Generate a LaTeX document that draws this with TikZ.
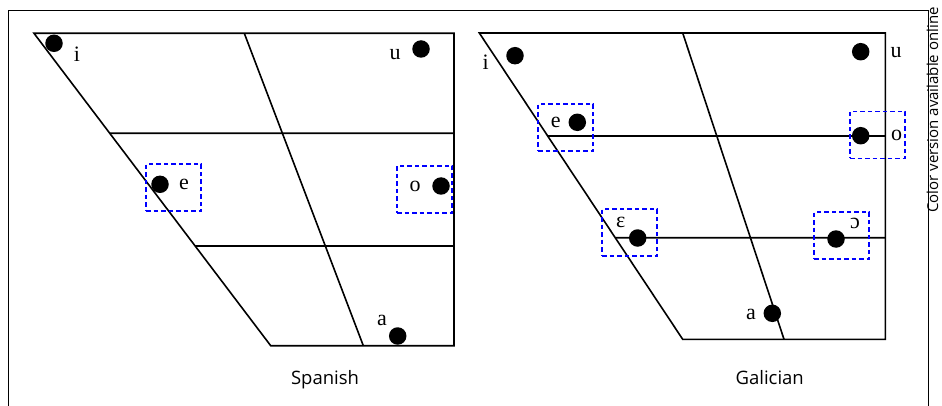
\documentclass[tikz,border=0pt]{standalone}
\usepackage{fontspec}
\setmainfont{Liberation Serif}
\newfontfamily\sansf{Open Sans}
\usetikzlibrary{calc}
\begin{document}
\begin{tikzpicture}[x=1pt,y=-1pt,
  chart/.style={line width=1.6pt,line join=miter},
  vdot/.style={circle,fill=black,inner sep=0pt,minimum size=17.5pt},
  vlab/.style={anchor=base,inner sep=0pt,font=\fontsize{22}{22}\selectfont},
  hibox/.style={draw={rgb,255:red,0;green,0;blue,255},dash pattern=on 4.5pt off 3pt,line width=1.6pt,minimum width=55pt,minimum height=47pt,inner sep=0pt},
  panel/.style={anchor=base,inner sep=0pt,font=\sansf\fontsize{18.5}{18.5}\selectfont}]
\useasboundingbox (0,0) rectangle (942,406);
\clip (0,0) rectangle (942,406);
% outer frame
\coordinate (F1) at (8.3,10.7);
\coordinate (F2) at (928.7,420);
\draw[line width=1.5pt] (F1) rectangle (F2);
\node[rotate=90,anchor=base west,inner sep=0pt,font=\sansf\fontsize{15}{15}\selectfont] (note) at (938,213) {Color version available online};

% ---------- Spanish ----------
\coordinate (sTL) at (34,33.3);
\coordinate (sTR) at (454,33.3);
\coordinate (sBR) at (454,345.7);
\coordinate (sBL) at (270.7,345.7);
\coordinate (sMT) at (244.3,33.3);
\coordinate (sMB) at (363.3,345.7);
\coordinate (sL1) at ($(sTL)!0.3201!(sBL)$);
\coordinate (sR1) at (454,133.3);
\coordinate (sL2) at ($(sTL)!0.6809!(sBL)$);
\coordinate (sR2) at (454,246);
\draw[chart] (sTL) -- (sTR) -- (sBR) -- (sBL) -- cycle;
\draw[chart] (sMT) -- (sMB);
\draw[chart] (sL1) -- (sR1);
\draw[chart] (sL2) -- (sR2);
\node[hibox] (sbe) at (173.5,187.7) {};
\node[hibox] (sbo) at (424.5,189.3) {};
\node[vdot] (si) at (54,43.3) {};
\node[vdot] (su) at (421,49) {};
\node[vdot] (se) at (160,184.3) {};
\node[vdot] (so) at (441,186) {};
\node[vdot] (sa) at (397.7,336) {};
\node[vlab] (lsi) at (77,61.5) {i};
\node[vlab] (lsu) at (395,60) {u};
\node[vlab] (lse) at (184,190) {e};
\node[vlab] (lso) at (415,192) {o};
\node[vlab] (lsa) at (382,325) {a};
\node[panel] (spanish) at (325,384) {Spanish};

% ---------- Galician ----------
\coordinate (gTL) at (479.3,33);
\coordinate (gTR) at (885.3,33);
\coordinate (gBR) at (885.3,339.3);
\coordinate (gBL) at (682.7,339.3);
\coordinate (gMT) at (682.7,33);
\coordinate (gMB) at (784,339.3);
\coordinate (gL1) at ($(gTL)!0.3363!(gBL)$);
\coordinate (gR1) at (885.3,136);
\coordinate (gL2) at ($(gTL)!0.6683!(gBL)$);
\coordinate (gR2) at (885.3,237.7);
\draw[chart] (gTL) -- (gTR) -- (gBR) -- (gBL) -- cycle;
\draw[chart] (gMT) -- (gMB);
\draw[chart] (gL1) -- (gR1);
\draw[chart] (gL2) -- (gR2);
\node[hibox] (gbe) at (565.5,127.7) {};
\node[hibox] (gbo) at (877.5,135) {};
\node[hibox] (gbE) at (629.5,232.7) {};
\node[hibox] (gbO) at (841.5,235.7) {};
\node[vdot] (gi) at (515,55.7) {};
\node[vdot] (gu) at (860.7,51.7) {};
\node[vdot] (ge) at (577.3,122.3) {};
\node[vdot] (go) at (860.7,135.7) {};
\node[vdot] (gE) at (637.7,238) {};
\node[vdot] (gO) at (836,239) {};
\node[vdot] (ga) at (772.3,313.3) {};
\node[vlab] (lgi) at (485.7,69.3) {i};
\node[vlab] (lgu) at (896,57.3) {u};
\node[vlab] (lge) at (555.7,127.7) {e};
\node[vlab] (lgo) at (896.7,140.7) {o};
\node[vlab] (lgE) at (620.7,227.7) {ε};
\node[vlab] (lgO) at (855,229) {ɔ};
\node[vlab] (lga) at (751,319) {a};
\node[panel] (galician) at (769.7,384) {Galician};
\end{tikzpicture}
\end{document}
